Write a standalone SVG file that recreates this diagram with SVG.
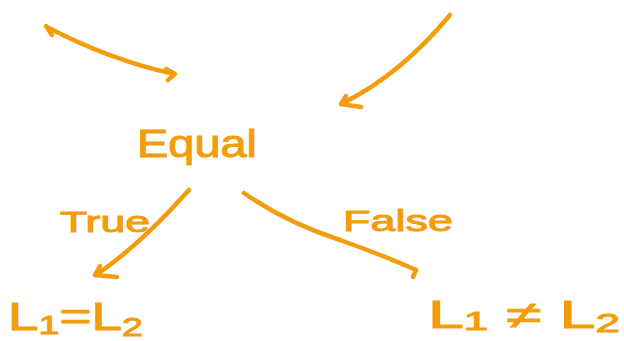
<svg xmlns="http://www.w3.org/2000/svg" width="624" height="341" viewBox="0 0 624 341">
<style>
.s{fill:none;stroke:#F39C0C;stroke-width:4.5;stroke-linecap:round;stroke-linejoin:round}
.t{fill:#F39C0C;stroke:#F39C0C;stroke-width:1;font-family:"Liberation Sans","DejaVu Sans",sans-serif}
</style>
<rect width="624" height="341" fill="#fff"/>
<g id="connectors">
<path class="s" d="M47,27 Q110,60 174,74"/>
<path class="s" d="M46,26 L52,35"/>
<path class="s" d="M166,69 L175,74 L168,80"/>
<path class="s" d="M450,15 Q400,75 343,103"/>
<path class="s" d="M346,96 L341,104 L361,107"/>
<path class="s" d="M189,190 Q140,245 96,275"/>
<path class="s" d="M100,266 L95,275 L117,277"/>
<path class="s" d="M244,193 Q285,222 340,240 Q385,256 416,270"/>
<path class="s" d="M416,270 L413,277"/>
</g>
<g id="equal"><text class="t" x="137" y="157" font-size="38" textLength="120" lengthAdjust="spacingAndGlyphs">Equal</text></g>
<g id="true"><text class="t" x="60" y="232" font-size="30" textLength="90" lengthAdjust="spacingAndGlyphs">True</text></g>
<g id="false"><text class="t" x="343" y="231" font-size="30" textLength="110" lengthAdjust="spacingAndGlyphs">False</text></g>
<g id="l1eql2"><text class="t" x="8" y="330" font-size="38" textLength="135" lengthAdjust="spacingAndGlyphs">L<tspan font-size="26" dy="4">1</tspan><tspan dy="-4">=L</tspan><tspan font-size="26" dy="6">2</tspan></text></g>
<g id="l1neql2"><text class="t" x="428" y="328" font-size="38" textLength="192" lengthAdjust="spacingAndGlyphs">L<tspan font-size="26" dy="2">1</tspan><tspan dy="-2"> ≠ L</tspan><tspan font-size="26" dy="4">2</tspan></text></g>
</svg>
